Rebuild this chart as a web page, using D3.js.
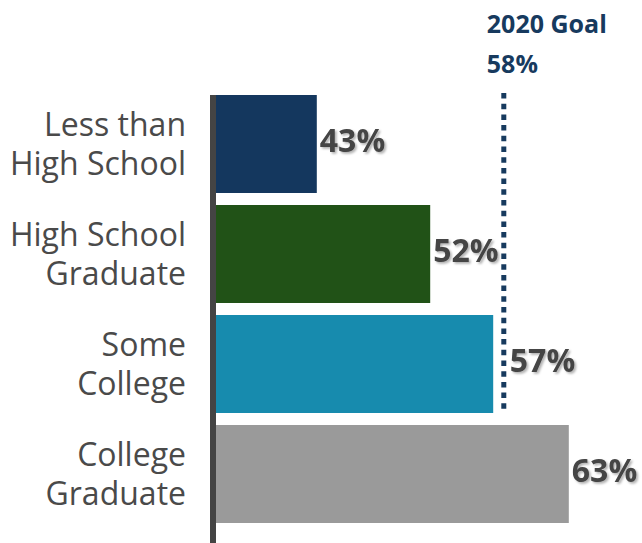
<!DOCTYPE html>
<html>
<head>
<meta charset="utf-8">
<script src="https://cdn.jsdelivr.net/npm/d3@7/dist/d3.min.js"></script>
<style>
  html, body { margin: 0; padding: 0; background: #fff; }
  svg { display: block; }
</style>
</head>
<body>
<svg id="chart" width="642" height="543"></svg>
<script>
// Educational attainment categories (two-line labels) and their rates (%)
const categories = ["Less than High School", "High School Graduate", "Some College", "College Graduate"];
const labelLines = [["Less than", "High School"], ["High School", "Graduate"], ["Some", "College"], ["College", "Graduate"]];
const values = [43, 52, 57, 63];
const barColors = ["#14375e", "#215217", "#178bae", "#9a9a9a"];
const goalValue = 58;
const goalTitle = "2020 Goal";

const svg = d3.select("#chart");
const width = 642, height = 543;

const x = d3.scaleLinear().domain([35, 65]).range([216, 594]);
const y = d3.scaleBand().domain(categories).range([95, 523]).paddingInner(12 / 110).paddingOuter(0);

const defs = svg.append("defs");
const shadow = defs.append("filter").attr("id", "shadow")
  .attr("x", "-20%").attr("y", "-20%").attr("width", "140%").attr("height", "140%");
shadow.append("feDropShadow")
  .attr("dx", 1.8).attr("dy", 1.8).attr("stdDeviation", 0.8)
  .attr("flood-color", "#000").attr("flood-opacity", 0.3);

// Bars
svg.append("g").selectAll("rect")
  .data(categories)
  .join("rect")
  .attr("x", x(35))
  .attr("y", d => y(d))
  .attr("width", (d, i) => x(values[i]) - x(35))
  .attr("height", y.bandwidth())
  .attr("fill", (d, i) => barColors[i]);

// Baseline axis line
svg.append("line")
  .attr("x1", x(35) - 3).attr("x2", x(35) - 3)
  .attr("y1", y(categories[0])).attr("y2", height)
  .attr("stroke", "#444").attr("stroke-width", 6);

// Goal line
const gx = x(goalValue) - 2;
svg.append("line")
  .attr("x1", gx).attr("x2", gx)
  .attr("y1", y(categories[0]) - 2)
  .attr("y2", y(categories[2]) + y.bandwidth() - 2)
  .attr("stroke", "#173a5e").attr("stroke-width", 5)
  .attr("stroke-dasharray", "5.5 5.2");

svg.append("text")
  .attr("x", gx - 17).attr("y", 33)
  .attr("font-family", "'Open Sans', sans-serif").attr("font-weight", 700)
  .attr("font-size", 25).attr("fill", "#173a5e")
  .text(goalTitle);
svg.append("text")
  .attr("x", gx - 17).attr("y", 73)
  .attr("font-family", "'Open Sans', sans-serif").attr("font-weight", 700)
  .attr("font-size", 25).attr("fill", "#173a5e")
  .text(goalValue + "%");

// Category labels
const lineGap = 39, capH = 23;
const cat = svg.append("g")
  .attr("font-family", "'Open Sans', sans-serif")
  .attr("font-size", 32).attr("fill", "#4a4a4a")
  .attr("text-anchor", "end");
categories.forEach((c, i) => {
  const cy = y(c) + y.bandwidth() / 2;
  const t = cat.append("text").attr("x", 186);
  labelLines[i].forEach((ln, j) => {
    t.append("tspan").attr("x", 186)
      .attr("y", cy - lineGap / 2 + capH / 2 + j * lineGap)
      .text(ln);
  });
});

// Value labels, pushed past the goal line when they would sit on it
svg.append("g")
  .attr("font-family", "'Open Sans', sans-serif").attr("font-weight", 700)
  .attr("font-size", 32).attr("fill", "#444")
  .selectAll("text")
  .data(categories)
  .join("text")
  .attr("filter", "url(#shadow)")
  .attr("x", (d, i) => {
    const bx = x(values[i]);
    return (bx < gx && gx - bx < 20) ? gx + 6 : bx + 3;
  })
  .attr("y", d => y(d) + y.bandwidth() / 2 + 8)
  .text((d, i) => values[i] + "%");
</script>
</body>
</html>
